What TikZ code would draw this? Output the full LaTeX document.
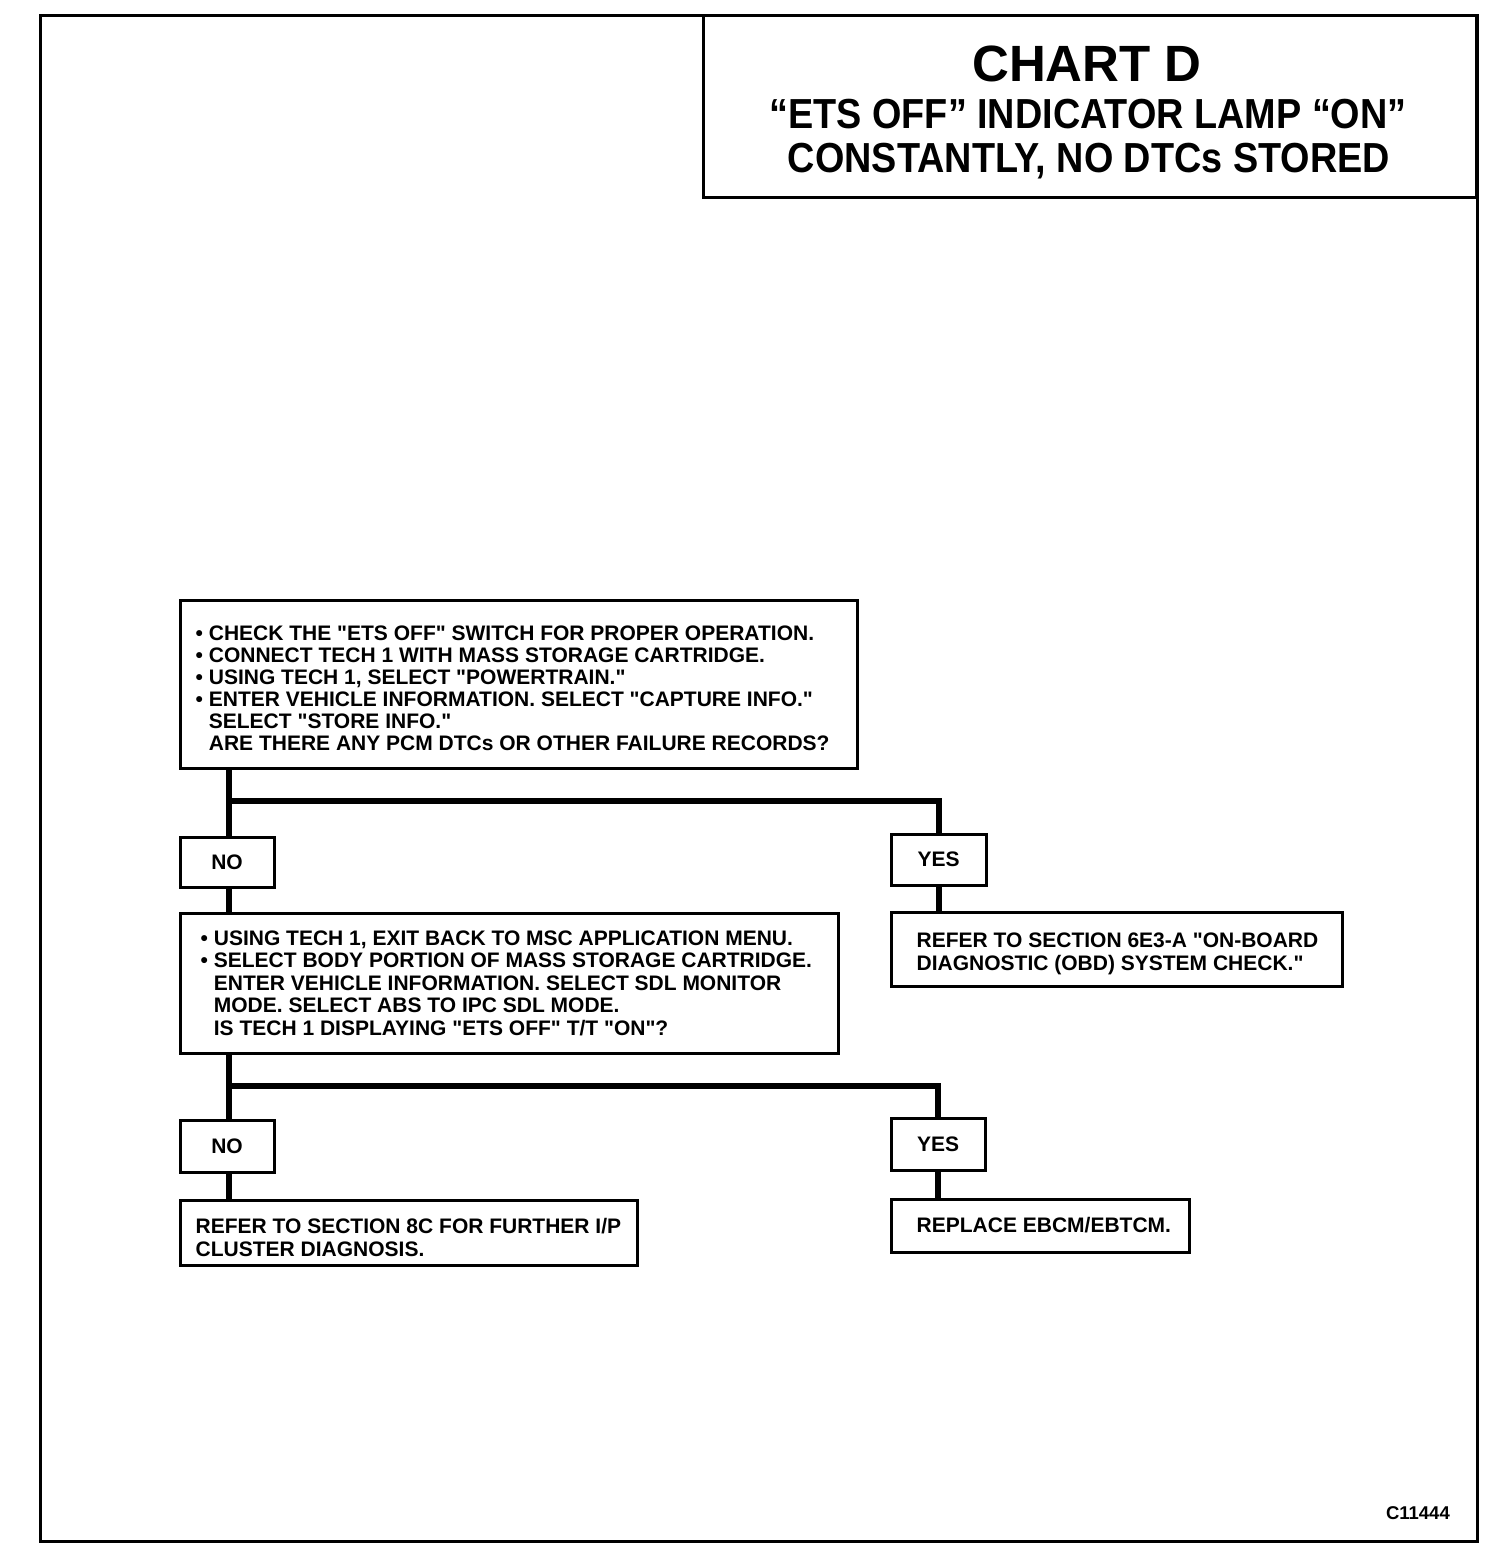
\documentclass[tikz,border=0pt]{standalone}
\usepackage{fontspec}
\setmainfont{Liberation Sans}[Ligatures=TeXOff]
\begin{document}
\begin{tikzpicture}[x=1pt,y=-1pt,
  box/.style={draw,line width=3pt,rectangle,inner sep=0pt},
  txt/.style={inner sep=0pt,align=left,font=\bfseries\fontsize{21}{22.5}\selectfont},
  lbl/.style={inner sep=0pt,font=\bfseries\fontsize{21}{22}\selectfont},
  conn/.style={line width=6pt},
  ttl/.style={inner sep=0pt,font=\bfseries\fontsize{42}{44}\selectfont}]
\useasboundingbox (0,0) rectangle (1504,1550);
\draw[line width=3pt] (40,15) rectangle (1477,1541);
% title
\node[box,minimum width=773pt,minimum height=182pt] (title) at (1089.5,106) {};
\node[inner sep=0pt,anchor=base,font=\bfseries\fontsize{51}{53}\selectfont] (t0) at (1087,81) {CHART D};
\node[ttl,anchor=base] (t2) at (1088,128) {\scalebox{0.9}[1]{“ETS OFF” INDICATOR LAMP “ON”}};
\node[ttl,anchor=base] (t3) at (1089,172) {\scalebox{0.9}[1]{CONSTANTLY, NO DTCs STORED}};
% box 1
\node[box,minimum width=677pt,minimum height=168pt] (b1) at (518.5,684) {};
\node[txt,anchor=west,font=\bfseries\fontsize{21}{22}\selectfont] (b1t) at ([xshift=17pt,yshift=-4pt]b1.west) {\textbullet\ CHECK THE "ETS OFF" SWITCH FOR PROPER OPERATION.\\
\textbullet\ CONNECT TECH 1 WITH MASS STORAGE CARTRIDGE.\\
\textbullet\ USING TECH 1, SELECT "POWERTRAIN."\\
\textbullet\ ENTER VEHICLE INFORMATION. SELECT "CAPTURE INFO."\\
\phantom{\textbullet\ }SELECT "STORE INFO."\\
\phantom{\textbullet\ }ARE THERE ANY PCM DTCs OR OTHER FAILURE RECORDS?};
% first decision
\node[box,minimum width=94pt,minimum height=50pt] (no1) at (227,862) {};
\node[lbl] (no1t) at (no1.center) {NO};
\node[box,minimum width=95pt,minimum height=51pt] (yes1) at (938.5,859.5) {};
\node[lbl] (yes1t) at (yes1.center) {YES};
% box 2
\node[box,minimum width=658pt,minimum height=140pt] (b2) at (509,983) {};
\node[txt,anchor=west] (b2t) at ([xshift=22pt]b2.west) {\textbullet\ USING TECH 1, EXIT BACK TO MSC APPLICATION MENU.\\
\textbullet\ SELECT BODY PORTION OF MASS STORAGE CARTRIDGE.\\
\phantom{\textbullet\ }ENTER VEHICLE INFORMATION. SELECT SDL MONITOR\\
\phantom{\textbullet\ }MODE. SELECT ABS TO IPC SDL MODE.\\
\phantom{\textbullet\ }IS TECH 1 DISPLAYING "ETS OFF" T/T "ON"?};
% box 3
\node[box,minimum width=451pt,minimum height=74pt] (b3) at (1116.5,949) {};
\node[txt,anchor=west] (b3t) at ([xshift=27pt,yshift=-5pt]b3.west) {REFER TO SECTION 6E3-A "ON-BOARD\\DIAGNOSTIC (OBD) SYSTEM CHECK."};
% second decision
\node[box,minimum width=94pt,minimum height=52pt] (no2) at (227,1146) {};
\node[lbl] (no2t) at (no2.center) {NO};
\node[box,minimum width=94pt,minimum height=52pt] (yes2) at (938,1144) {};
\node[lbl] (yes2t) at (yes2.center) {YES};
% box 4
\node[box,minimum width=457pt,minimum height=65pt] (b4) at (408.5,1232.5) {};
\node[txt,anchor=west] (b4t) at ([xshift=17pt,yshift=-5pt]b4.west) {REFER TO SECTION 8C FOR FURTHER I/P\\CLUSTER DIAGNOSIS.};
% box 5
\node[box,minimum width=298pt,minimum height=53pt] (b5) at (1040,1225.5) {};
\node[txt,anchor=west] (b5t) at ([xshift=27pt]b5.west) {REPLACE EBCM/EBTCM.};
% connectors
\coordinate (j1) at (229,801);
\coordinate (j2) at (229,1086);
\draw[conn] (j1 |- b1.south) -- (j1 |- no1.north);
\draw[conn] (j1) -| (yes1.north);
\draw[conn] (j1 |- no1.south) -- (j1 |- b2.north);
\draw[conn] (yes1.south) -- (yes1.south |- b3.north);
\draw[conn] (j2 |- b2.south) -- (j2 |- no2.north);
\draw[conn] (j2) -| (yes2.north);
\draw[conn] (j2 |- no2.south) -- (j2 |- b4.north);
\draw[conn] (yes2.south) -- (yes2.south |- b5.north);
% figure number
\node[inner sep=0pt,anchor=base east,font=\bfseries\fontsize{18.5}{20}\selectfont] (fig) at (1450,1519) {C11444};
\end{tikzpicture}
\end{document}
